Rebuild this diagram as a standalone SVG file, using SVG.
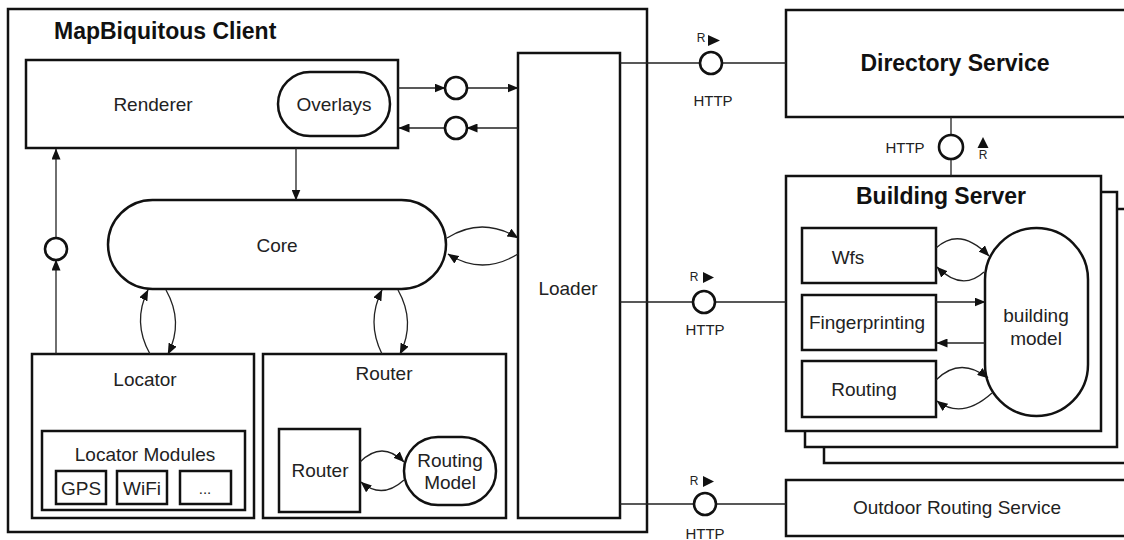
<svg xmlns="http://www.w3.org/2000/svg" width="1124" height="540" viewBox="0 0 1124 540">
<style>
.box{fill:#fff;stroke:#111;stroke-width:2.5}
.ln{fill:none;stroke:#222;stroke-width:1.3}
.arr{fill:none;stroke:#222;stroke-width:1.3;marker-end:url(#ah)}
.ifc{fill:#fff;stroke:#111;stroke-width:2.6}
.t{font-family:"Liberation Sans",Arial,sans-serif;font-size:19px;fill:#222;text-anchor:middle;dominant-baseline:central}
.b{font-family:"Liberation Sans",Arial,sans-serif;font-size:23px;font-weight:bold;fill:#111;text-anchor:middle;dominant-baseline:central}
.s{font-family:"Liberation Sans",Arial,sans-serif;font-size:15px;fill:#222;text-anchor:middle;dominant-baseline:central}
.r{font-family:"Liberation Sans",Arial,sans-serif;font-size:12px;fill:#222;text-anchor:middle;dominant-baseline:central}
.tri{fill:#111}
</style>
<defs>
<marker id="ah" markerWidth="11" markerHeight="9" refX="10.5" refY="4.5" orient="auto" markerUnits="userSpaceOnUse">
<path d="M0,0 L11,4.5 L0,9 Z" fill="#111"/>
</marker>
</defs>
<rect width="1124" height="540" fill="#fff"/>

<g id="client">
<rect class="box" x="8" y="9" width="639" height="523"/>
<text x="54" y="31" class="b" style="text-anchor:start">MapBiquitous Client</text>
</g>

<g id="renderer">
<rect class="box" x="26" y="60" width="372" height="88"/>
<text x="153" y="104" class="t">Renderer</text>
<rect class="box" x="278" y="72" width="112" height="64" rx="32"/>
<text x="334" y="104" class="t">Overlays</text>
</g>

<g id="core">
<rect class="box" x="108" y="200" width="338" height="89" rx="44.5"/>
<text x="277" y="245" class="t">Core</text>
</g>

<g id="loader">
<rect class="box" x="518" y="53" width="102" height="465"/>
<text x="568" y="288" class="t">Loader</text>
</g>

<g id="locator">
<rect class="box" x="32" y="354" width="222" height="164"/>
<text x="145" y="379" class="t">Locator</text>
<rect class="box" x="42" y="431" width="203" height="79"/>
<text x="145" y="454" class="t">Locator Modules</text>
<rect class="box" x="56" y="471" width="50" height="33"/>
<text x="81" y="488" class="t">GPS</text>
<rect class="box" x="117" y="471" width="50" height="33"/>
<text x="142" y="488" class="t">WiFi</text>
<rect class="box" x="180" y="471" width="51" height="33"/>
<text x="205" y="488" class="t" style="font-size:15px">...</text>
</g>

<g id="router">
<rect class="box" x="263" y="354" width="243" height="164"/>
<text x="384" y="373" class="t">Router</text>
<rect class="box" x="279" y="429" width="81" height="83"/>
<text x="320" y="470" class="t">Router</text>
<rect class="box" x="404" y="437" width="92" height="68" rx="34"/>
<text x="450" y="460" class="t">Routing</text>
<text x="450" y="482" class="t">Model</text>
</g>

<g id="directory">
<rect class="box" x="786" y="10" width="400" height="107"/>
<text x="955" y="63" class="b">Directory Service</text>
</g>

<g id="building">
<rect class="box" x="824" y="209" width="400" height="254"/>
<rect class="box" x="805" y="192" width="312" height="255"/>
<rect class="box" x="786" y="176" width="315" height="255"/>
<text x="941" y="196" class="b">Building Server</text>
<rect class="box" x="802" y="228" width="134" height="55"/>
<text x="848" y="257" class="t">Wfs</text>
<rect class="box" x="802" y="295" width="134" height="55"/>
<text x="867" y="322" class="t">Fingerprinting</text>
<rect class="box" x="802" y="361" width="134" height="56"/>
<text x="864" y="389" class="t">Routing</text>
<rect class="box" x="985" y="228" width="103" height="188" rx="51.5"/>
<text x="1036" y="315" class="t">building</text>
<text x="1036" y="338" class="t">model</text>
</g>

<g id="outdoor">
<rect class="box" x="786" y="480" width="400" height="56"/>
<text x="957" y="507" class="t">Outdoor Routing Service</text>
</g>

<g id="connectors">
<path class="arr" d="M398,88 L445,88"/>
<path class="arr" d="M467,88 L518,88"/>
<circle class="ifc" cx="456" cy="88" r="11"/>
<path class="arr" d="M518,128 L467,128"/>
<path class="arr" d="M445,128 L399,128"/>
<circle class="ifc" cx="456" cy="128" r="11"/>
<path class="arr" d="M296,148 L296,200"/>
<path class="arr" d="M56,354 L56,260"/>
<path class="arr" d="M56,238 L56,149"/>
<circle class="ifc" cx="56" cy="249" r="11"/>
<path class="arr" d="M447,238 Q482,216 518,238"/>
<path class="arr" d="M518,254 Q482,276 448,254"/>
<path class="arr" d="M150,354 Q132,322 148,290"/>
<path class="arr" d="M166,290 Q184,322 168,354"/>
<path class="arr" d="M382,354 Q366,322 382,290"/>
<path class="arr" d="M398,290 Q416,322 400,354"/>
<path class="arr" d="M360,462 Q382,440 404,462"/>
<path class="arr" d="M404,480 Q382,500 361,482"/>
<path class="ln" d="M620,63 L700,63 M722,63 L786,63"/>
<circle class="ifc" cx="711" cy="63" r="11"/>
<text x="701" y="38" class="r">R</text>
<polygon class="tri" points="708,35 720,40.5 708,46"/>
<text x="713" y="100" class="s">HTTP</text>
<path class="ln" d="M620,302 L693,302 M715,302 L786,302"/>
<circle class="ifc" cx="704" cy="302" r="11"/>
<text x="694" y="277" class="r">R</text>
<polygon class="tri" points="703,272 714,277.5 703,283"/>
<text x="705" y="329" class="s">HTTP</text>
<path class="ln" d="M620,504 L694,504 M716,504 L786,504"/>
<circle class="ifc" cx="705" cy="504" r="11"/>
<text x="694" y="481" class="r">R</text>
<polygon class="tri" points="703,476 714,481.5 703,487"/>
<text x="705" y="533" class="s">HTTP</text>
<path class="ln" d="M951,117 L951,135 M951,159 L951,176"/>
<circle class="ifc" cx="951" cy="147" r="12"/>
<text x="905" y="147" class="s">HTTP</text>
<polygon class="tri" points="977.5,148 983,137 988.5,148"/>
<text x="983" y="155" class="r">R</text>
<path class="arr" d="M936,248 Q960,226 989,256"/>
<path class="arr" d="M984,272 Q962,292 937,267"/>
<path class="arr" d="M936,302 L985,302"/>
<path class="arr" d="M985,343 L937,343"/>
<path class="arr" d="M936,380 Q960,356 988,378"/>
<path class="arr" d="M992,393 Q962,420 937,401"/>
</g>
</svg>
